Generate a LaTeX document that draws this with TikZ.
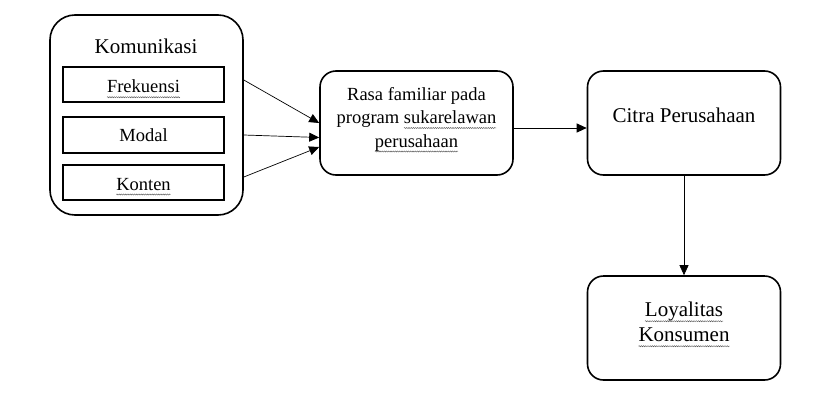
\documentclass[tikz,border=0pt]{standalone}
\usepackage{fontspec}
\setmainfont{Liberation Serif}
\usetikzlibrary{arrows.meta,decorations.pathmorphing}
\newcommand\wavy[1]{\tikz[baseline=(wv.base)]{\node[draw=none,fill=none,inner sep=0pt,outer sep=0pt,minimum width=0pt,minimum height=0pt,anchor=base](wv) at (0,0){#1};\draw[overlay,gray!70!black,line width=0.45pt,decorate,decoration={snake,amplitude=0.55pt,segment length=2.2pt}]([yshift=-4.5pt]wv.base west)--([yshift=-4.5pt]wv.base east);}}
\tikzset{
  bigbox/.style={draw,line width=1.6pt,rounded corners=16pt,minimum width=193pt,minimum height=104pt,inner sep=0pt},
  subbox/.style={draw,line width=1.5pt,minimum width=161pt,minimum height=35pt,inner sep=0pt},
  small/.style={font=\fontsize{18.5}{22}\selectfont,inner sep=0pt,anchor=base},
  large/.style={font=\fontsize{21}{25}\selectfont,inner sep=0pt,anchor=base},
  arr/.style={-{Triangle[length=10pt,width=9pt]},line width=0.7pt},
}
\begin{document}
\begin{tikzpicture}[x=1pt,y=1pt]
\useasboundingbox (0,0) rectangle (826,-407);
% Komunikasi group
\node[bigbox,rounded corners=25pt,minimum height=200pt] (komu) at (146.5,-115) {};
\node[large] (komut) at (146,-53.3) {Komunikasi};
\node[subbox] (frek) at (143.5,-84.5) {};
\node[subbox,minimum height=36pt] (modal) at (143.5,-135) {};
\node[subbox] (konten) at (143.5,-182.5) {};
\node[small] (frekt) at (143.5,-92.7) {\wavy{Frekuensi}};
\node[small] (modalt) at (143.5,-141.7) {Modal};
\node[small] (kontent) at (143.5,-190) {\wavy{Konten}};
% Rasa familiar
\node[bigbox] (rasa) at (416.5,-123) {};
\node[small] (rasa1) at (416.5,-100) {Rasa familiar pada};
\node[small] (rasa2) at (416.5,-123.5) {program \wavy{sukarelawan}};
\node[small] (rasa3) at (416.5,-147) {\wavy{perusahaan}};
% Citra
\node[bigbox] (citra) at (684,-123) {};
\node[large] (citrat) at (684,-122.7) {Citra Perusahaan};
% Loyalitas
\node[bigbox] (loyal) at (684,-328) {};
\node[large] (loyal1) at (684,-316.7) {\wavy{Loyalitas}};
\node[large] (loyal2) at (684,-341.7) {\wavy{Konsumen}};
% connectors
\draw[arr] ([yshift=35pt]komu.east) -- (rasa.west);
\draw[arr] ([yshift=-20pt]komu.east) -- ([yshift=-14.5pt]rasa.west);
\draw[arr] ([yshift=-62pt]komu.east) -- ([yshift=-24pt]rasa.west);
\draw[arr,line width=0.9pt] ([yshift=-5pt]rasa.east) -- ([yshift=-5pt]citra.west);
\draw[arr] (citra.south) -- (loyal.north);
\end{tikzpicture}
\end{document}
